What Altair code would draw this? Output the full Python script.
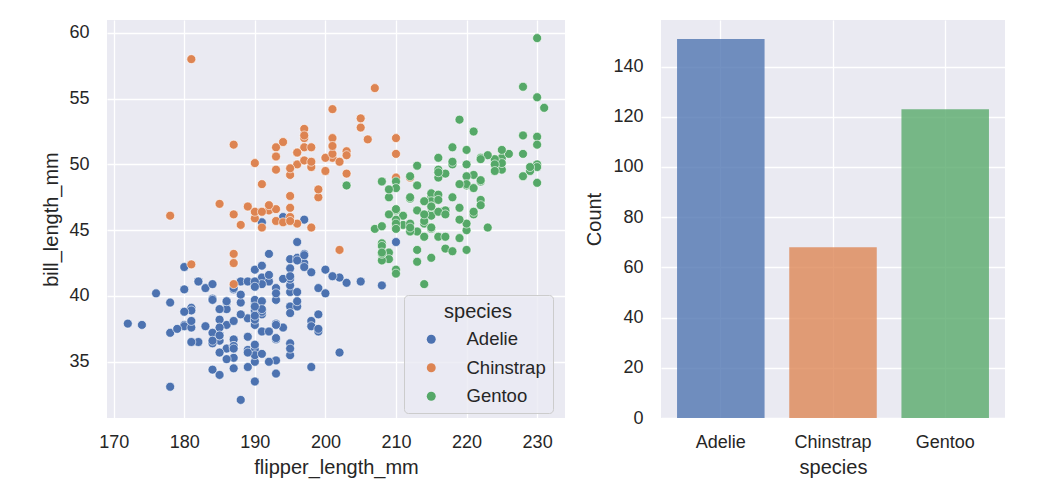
import altair as alt
import pandas as pd

species_names = ["Adelie", "Chinstrap", "Gentoo"]
palette = ["#4c72b0", "#dd8452", "#55a868"]

adelie_flipper = [181,186,195,193,190,181,195,193,190,186,180,182,191,198,185,195,197,184,194,174,
                  180,189,185,180,187,183,187,172,180,178,178,188,184,195,196,190,180,181,184,182,
                  195,186,196,185,190,182,179,190,191,186,188,190,200,187,191,186,193,181,194,185,
                  195,185,192,184,192,195,188,190,198,190,190,196,197,190,195,191,184,187,195,189,
                  196,187,193,191,194,190,189,189,190,202,205,185,186,187,208,190,196,178,192,192,
                  203,183,190,193,184,199,190,181,197,198,191,193,197,191,196,188,199,189,189,187,
                  198,176,202,186,199,191,195,191,210,190,197,193,199,187,190,191,200,185,193,193,
                  187,188,190,192,185,190,184,195,193,187,201]
adelie_bill = [39.1,39.5,40.3,36.7,39.3,38.9,39.2,34.1,42.0,37.8,37.8,41.1,38.6,34.6,36.6,38.7,42.5,34.4,46.0,37.8,
               37.7,35.9,38.2,38.8,35.3,40.6,40.5,37.9,40.5,39.5,37.2,39.5,40.9,36.4,39.2,38.8,42.2,37.6,39.8,36.5,
               40.8,36.0,44.1,37.0,39.6,41.1,37.5,36.0,42.3,39.6,40.1,35.0,42.0,34.5,41.4,39.0,40.6,36.5,37.6,35.7,
               41.3,37.6,41.1,36.4,41.6,35.5,41.1,35.9,41.8,33.5,39.7,39.6,45.8,35.5,42.8,40.9,37.2,36.2,42.1,34.6,
               42.9,36.7,35.1,37.3,41.3,36.3,36.9,38.3,38.9,35.7,41.1,34.0,39.6,36.2,40.8,38.1,40.3,33.1,43.2,35.0,
               41.0,37.7,37.8,37.9,39.7,38.6,38.2,38.1,43.2,38.1,45.6,39.7,42.2,39.6,42.7,38.6,37.3,35.7,41.1,36.2,
               37.7,40.2,41.4,35.2,40.6,38.8,41.5,39.0,44.1,38.5,43.1,36.8,37.5,38.1,41.1,35.6,40.2,37.0,39.7,40.2,
               40.6,32.1,40.7,37.3,39.0,39.2,36.6,36.0,37.8,36.0,41.5]

chinstrap_flipper = [192,196,193,188,197,198,178,197,195,198,193,194,185,201,190,201,197,181,190,195,
                     181,191,187,193,195,197,200,200,191,205,187,201,187,203,195,199,195,210,192,205,
                     210,187,196,196,196,201,190,212,187,198,199,201,193,203,187,197,191,203,202,194,
                     206,189,195,207,202,193,210,198]
chinstrap_bill = [46.5,50.0,51.3,45.4,52.7,45.2,46.1,51.3,46.0,51.3,46.6,51.7,47.0,52.0,45.9,50.5,50.3,58.0,46.4,49.2,
                  42.4,48.5,43.2,50.6,46.7,52.0,50.5,49.5,46.4,52.8,40.9,54.2,42.5,51.0,49.7,47.5,47.6,52.0,46.9,53.5,
                  49.0,46.2,50.9,45.5,50.9,50.8,50.1,49.0,51.5,49.8,48.1,51.4,45.7,50.7,42.5,52.2,45.2,49.3,50.2,45.6,
                  51.9,46.8,45.7,55.8,43.5,49.6,50.8,50.2]

gentoo_flipper = [211,230,210,218,215,210,211,219,209,215,214,216,214,213,210,217,210,221,209,222,
                  218,215,213,215,215,215,216,215,210,220,222,209,207,230,220,220,213,219,208,208,
                  208,225,210,216,222,217,210,225,213,215,210,220,210,225,217,220,208,220,208,224,
                  208,221,214,231,219,230,214,229,220,223,216,221,221,217,216,230,209,220,215,223,
                  212,221,212,224,212,228,218,218,212,230,218,228,212,224,214,226,216,222,203,225,
                  219,228,215,228,216,215,210,219,208,209,216,229,213,230,217,230,217,222,214,
                  215,222,212,213]
gentoo_bill = [46.1,50.0,48.7,50.0,47.6,46.5,45.4,46.7,43.3,46.8,40.9,49.0,45.5,48.4,45.8,49.3,42.0,49.2,46.2,48.7,
               50.2,45.1,46.5,46.3,42.9,46.1,44.5,47.8,48.2,50.0,47.3,42.8,45.1,59.6,49.1,48.4,42.6,44.4,44.0,48.7,
               42.7,49.6,45.3,49.6,50.5,43.6,45.5,50.5,44.9,45.2,46.6,48.5,45.1,50.1,46.5,45.0,43.8,45.5,43.2,50.4,
               45.3,46.2,45.7,54.3,45.8,49.8,46.2,49.5,43.5,50.7,47.7,46.4,48.2,46.5,46.4,48.6,47.5,51.1,45.2,45.2,
               49.1,52.5,47.4,50.0,44.9,50.8,43.4,51.3,47.5,52.1,47.5,52.2,45.5,49.5,44.5,50.8,49.4,46.9,48.4,51.1,
               48.5,55.9,47.2,49.1,47.3,46.8,41.7,53.4,43.3,48.1,50.5,49.8,43.5,51.5,46.2,55.1,44.5,48.8,47.2,
               46.8,50.4,45.2,49.9]

x_ticks = [170, 180, 190, 200, 210, 220, 230]
y_ticks = [35, 40, 45, 50, 55, 60]
count_ticks = [0, 20, 40, 60, 80, 100, 120, 140]

frames = []
for name, fl, bl in [("Adelie", adelie_flipper, adelie_bill),
                     ("Chinstrap", chinstrap_flipper, chinstrap_bill),
                     ("Gentoo", gentoo_flipper, gentoo_bill)]:
    frames.append(pd.DataFrame({"species": name, "flipper_length_mm": fl, "bill_length_mm": bl}))
df = pd.concat(frames, ignore_index=True)

# matplotlib-style 5% margins
xmin, xmax = df.flipper_length_mm.min(), df.flipper_length_mm.max()
ymin, ymax = df.bill_length_mm.min(), df.bill_length_mm.max()
xpad = (xmax - xmin) * 0.05
ypad = (ymax - ymin) * 0.05
max_count = df.species.value_counts().max()

color_scale = alt.Scale(domain=species_names, range=palette)
FONT = "Liberation Sans"
TXT = "#262626"

scatter = alt.Chart(df).mark_circle(size=80, opacity=1, stroke="white", strokeWidth=0.6).encode(
    x=alt.X("flipper_length_mm:Q",
            scale=alt.Scale(domain=[xmin - xpad, xmax + xpad], nice=False, zero=False),
            axis=alt.Axis(values=x_ticks, title="flipper_length_mm", labelPadding=15, titlePadding=6)),
    y=alt.Y("bill_length_mm:Q",
            scale=alt.Scale(domain=[ymin - ypad, ymax + ypad], nice=False, zero=False),
            axis=alt.Axis(values=y_ticks, title="bill_length_mm", labelPadding=18, titlePadding=7)),
    color=alt.Color("species:N", scale=color_scale,
                    legend=alt.Legend(orient="none", legendX=297, legendY=275, title="species",
                                      symbolType="circle", symbolSize=80, symbolStrokeWidth=0,
                                      fillColor="rgba(234,234,242,0.8)", strokeColor="#cccccc",
                                      cornerRadius=4, padding=7, titlePadding=8, rowPadding=9.5,
                                      symbolOffset=11, labelOffset=26,
                                      titleAnchor="middle", titleAlign="center",
                                      labelFontSize=18.5, titleFontSize=20, labelFont=FONT,
                                      titleFont=FONT, titleFontWeight="normal",
                                      labelColor=TXT, titleColor=TXT)),
).properties(width=458, height=398)

bars = alt.Chart(df).mark_bar(opacity=0.78).encode(
    x=alt.X("species:N", sort=species_names,
            scale=alt.Scale(paddingInner=0.22, paddingOuter=0.143),
            axis=alt.Axis(labelAngle=0, grid=True, bandPosition=0.5, title="species",
                          labelPadding=15, titlePadding=6)),
    y=alt.Y("count():Q", title="Count",
            scale=alt.Scale(domain=[0, max_count * 1.05], nice=False),
            axis=alt.Axis(values=count_ticks, labelPadding=18, titlePadding=8)),
    color=alt.Color("species:N", scale=color_scale, legend=None),
).properties(width=344, height=398)

chart = alt.hconcat(scatter, bars, spacing=19).properties(
    padding={"left": 33, "top": 12, "right": 5, "bottom": 5},
    background="white",
).configure_view(
    fill="#eaeaf2", stroke=None
).configure_axis(
    labelFont=FONT, titleFont=FONT, labelFontSize=18, titleFontSize=20,
    labelColor=TXT, titleColor=TXT, titleFontWeight="normal",
    domain=False, ticks=False, gridColor="white", gridWidth=1.3, gridOpacity=1
)

chart.save("out.html", embed_options={"renderer": "svg", "actions": False})
